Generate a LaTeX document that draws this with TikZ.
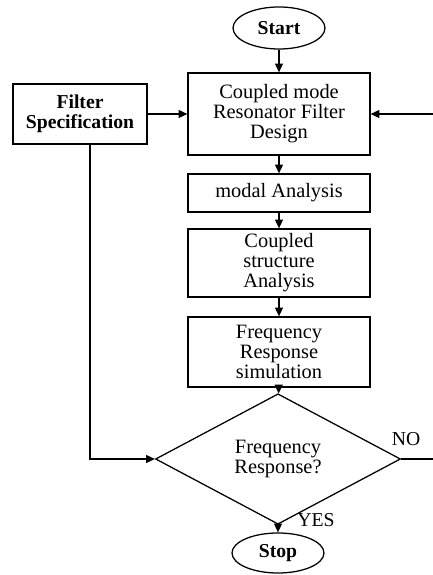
\documentclass[tikz,border=0pt]{standalone}
\usepackage{fontspec}
\setmainfont{Liberation Serif}
\usetikzlibrary{arrows.meta, shapes.geometric}

\begin{document}
\begin{tikzpicture}[
    line/.style={draw=black, line width=0.9pt},
    arrow/.style={line, -{Triangle[length=2.2mm, width=2mm]}},
    txt/.style={font=\fontsize{14.5}{14.2}\selectfont, align=center, inner sep=1pt},
    heavy/.style={font=\fontsize{14}{14.2}\selectfont\bfseries},
    terminal/.style={ellipse, line, txt, heavy, minimum width=2.3cm, minimum height=1.05cm},
    process/.style={rectangle, line, txt, minimum width=4.55cm},
    decision/.style={diamond, line, txt, minimum width=6.125cm, minimum height=2.55cm},
    branch/.style={font=\fontsize{14}{14}\selectfont, inner sep=1pt},
  ]
    % page frame
    \useasboundingbox (0,0) rectangle (10.825,14.375);

    % main column
    \node[terminal] (start) at (6.975,13.675) {Start};
    \node[process, minimum height=2.05cm] (design) at (6.975,11.525)
      {Coupled mode\\Resonator Filter\\Design};
    \node[process, minimum height=0.95cm] (modal) at (6.975,9.55) {modal Analysis};
    \node[process, minimum height=1.7cm] (struct) at (6.975,7.8)
      {Coupled\\structure\\Analysis};
    \node[process, minimum height=1.75cm] (sim) at (6.975,5.575)
      {Frequency\\Response\\simulation};
    \node[decision] (check) at (6.95,2.9) {Frequency\\Response?};
    \node[terminal, minimum height=1.0cm] (stop) at (6.95,0.55) {Stop};

    % side input
    \node[rectangle, line, txt, heavy, minimum width=3.35cm, minimum height=1.5cm]
      (spec) at (2.0,11.525) {Filter\\Specification};

    % loose ends at the page edge
    \coordinate (specdrop) at (2.25,10.775);
    \coordinate (noend) at (10.825,2.9);
    \coordinate (backin) at (10.825,11.525);

    % flow
    \draw[arrow] (start) -- (design);
    \draw[arrow] (spec) -- (design);
    \draw[arrow] (design) -- (modal);
    \draw[arrow] (modal) -- (struct);
    \draw[arrow] (struct) -- (sim);
    \draw[arrow] (sim) -- (check);
    \draw[arrow] (check) -- (stop);
    \draw[arrow] (specdrop) |- (check.west);
    \draw[line] (check.east) -- (noend);
    \draw[arrow] (backin) -- (design.east);

    % branch labels
    \node[branch] (yes) at (7.9,1.375) {YES};
    \node[branch] (no) at (10.15,3.4) {NO};
  \end{tikzpicture}
\end{document}
